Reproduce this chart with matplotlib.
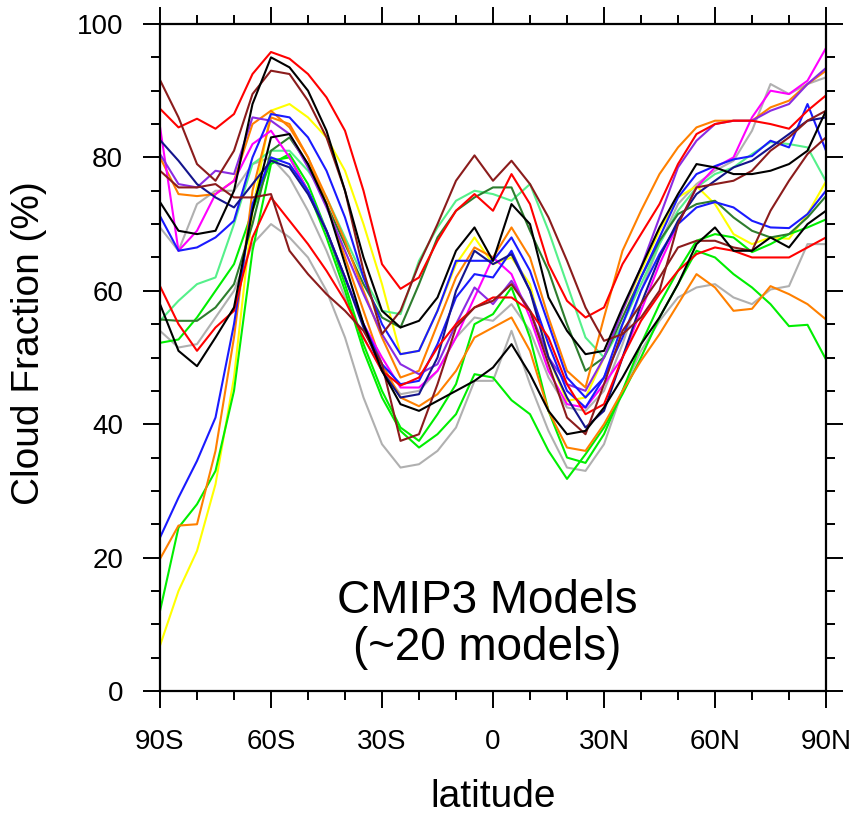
import numpy as np
import matplotlib
matplotlib.use("Agg")
import matplotlib.pyplot as plt

plt.rcParams['font.family'] = ['Liberation Sans', 'DejaVu Sans']

# latitude grid, every 5 degrees from 90S to 90N
lat = np.arange(-90, 91, 5)

# zonal mean cloud fraction (%), one list per model
red1 = [87.3, 84.5, 85.8, 84.3, 86.5, 92.5, 95.8, 94.8, 92.5, 89, 84, 75, 64, 60.3, 62, 67.5, 72, 74.5, 72,
        77.5, 73, 64, 58.5, 56, 57.5, 64, 68.5, 73, 79, 83.5, 85, 85.5, 85.5, 85, 84.3, 87, 89.3]
red2 = [60.7, 55, 51, 54.5, 57, 68, 74, 70.5, 67, 63, 58.5, 53, 48, 45.8, 47, 51.5, 55, 57.5, 59,
        59, 57, 53, 46, 41.5, 43, 50, 55.5, 59.5, 63, 65.5, 66.5, 66, 65, 65, 65, 66.5, 68]
brown1 = [91.6, 86, 79, 76.5, 81, 89.5, 93, 92.5, 88.5, 83, 75, 63, 53.5, 57, 64, 70, 76.5, 80.3, 76.5,
          79.5, 76, 71, 64.5, 57.5, 52.5, 53.5, 56, 60, 70, 75.5, 76, 76.5, 78, 81, 83, 85.5, 87]
brown2 = [78, 75.5, 75.5, 76, 74, 74, 74.5, 66, 62.5, 59.5, 57, 54, 49, 37.5, 38.5, 46, 54.5, 57.5, 58.5,
          61, 57, 49, 41, 38.5, 46, 54, 58, 62, 66.5, 67.5, 67.5, 66.5, 66, 72, 76.5, 80.5, 83]
black1 = [73.3, 69, 68.5, 69, 75, 88, 95, 93.5, 90, 84, 75, 65, 57, 54.5, 55.5, 59, 66, 69.5, 64.5,
          73, 70, 59, 54, 50.5, 51, 57.5, 63.5, 69.5, 74.5, 79, 78.5, 77.5, 77.5, 78, 79, 81, 87]
black2 = [58, 51, 48.7, 53, 57.5, 72, 83, 83.5, 79, 73, 64, 55, 48, 43, 42, 43.5, 45, 46.5, 48.5,
          52, 47.5, 42, 38.5, 39, 42.5, 47, 52, 56, 61, 67, 69.5, 66, 66, 68, 66.5, 70, 72]
magenta = [84.6, 66, 69, 74.5, 76.5, 82, 84, 80, 75, 69, 62, 55, 50, 45.5, 45.5, 48, 53, 59, 65,
           62.5, 56, 48, 43, 42.5, 46, 50, 57, 64, 70, 75.5, 78.5, 80, 86, 90, 89.5, 91.5, 96.4]
purple = [80.5, 76, 75.5, 78, 77.5, 86, 85.5, 83.5, 78.5, 72.5, 66, 59.5, 53.5, 49, 47.5, 49, 55, 60.5, 58,
          61.5, 57, 50, 46, 45, 50, 57, 63.5, 71, 78.5, 82.5, 85, 85.5, 85.5, 87, 88, 91, 93.4]
orange1 = [80, 74.5, 74.2, 74.5, 76.5, 85, 87, 84.5, 80, 74, 67.5, 60, 53, 47, 48, 55, 62, 66.5, 65,
           69.5, 65, 56, 48, 45.5, 56, 66, 72, 77.5, 81.5, 84.5, 85.5, 85.5, 85.5, 87.5, 88.5, 91, 93]
orange2 = [19.8, 24.8, 25, 36, 53, 75, 86, 85, 80, 73, 65, 57, 49, 44, 42.7, 44.5, 48, 53, 54.5,
           56, 51, 42, 36.5, 36, 40, 45, 49.5, 53.5, 58, 62.5, 60.5, 57, 57.3, 60.7, 59.5, 58, 55.7]
yellow = [6.8, 15, 21, 31, 47, 72, 87, 88, 86, 83, 78, 70, 61, 50.5, 51, 57, 64, 68, 64,
          65, 61, 50, 43.5, 44, 50, 57, 63, 69, 74, 75.7, 73, 68.5, 67, 68, 67.8, 71.5, 76.4]
lightgreen = [55.5, 58.5, 61, 62, 70, 79, 81, 81, 78, 74, 68, 62, 57, 56.5, 64.5, 69.5, 73.5, 75, 74.5,
              73.5, 76, 69, 61, 53, 50, 55, 61, 67, 72, 75.5, 77.5, 78.5, 80.5, 82.3, 82, 81.5, 76.4]
darkgreen = [55.7, 55.5, 55.5, 57.5, 61, 70, 81, 83, 79, 73, 67, 61, 56, 54.5, 61, 68, 72, 74, 75.5,
             75.5, 69, 63, 55, 48, 50, 56, 62, 67.5, 71.5, 73, 73.5, 71, 69, 68, 68.5, 71, 74.2]
lime1 = [52.2, 52.7, 56, 60, 64, 72, 79.5, 80, 75, 68, 60, 51, 44, 39, 36.5, 38.5, 41.5, 47.5, 47,
         43.6, 41.5, 36, 31.8, 35.5, 39.5, 44.5, 50, 56, 61, 66, 65, 62.5, 60.5, 58, 54.7, 54.9, 49.7]
lime2 = [12, 24.5, 28, 33, 45, 66, 79, 80.5, 76, 69, 61, 52, 45, 39.5, 37.5, 41.5, 46, 55, 56.5,
         60.5, 53, 42, 35, 34.2, 38.5, 45, 52, 58, 63, 67.5, 68.5, 68, 65.8, 67, 68.5, 69.5, 70.7]
blue1 = [71.2, 66, 66.5, 68, 70.5, 80, 86.5, 86, 83, 78, 71, 62, 55, 50.5, 51, 57, 64.5, 64.5, 64.5,
         68, 63, 55, 47, 44, 47, 55, 62, 68, 74, 77.5, 78.7, 79.7, 80.2, 82.5, 81.5, 88, 81]
blue2 = [23, 29, 34.5, 41, 55, 73, 80, 79, 75, 69, 62, 55, 49, 46, 46.5, 52, 59, 62.5, 62,
         66, 60, 52, 45, 42.5, 47, 53, 60, 65.5, 70, 72.5, 73.3, 72.5, 70.5, 69.5, 69.4, 71.5, 75]
navy = [82.6, 79.5, 76, 74, 72.5, 76, 79.5, 78.5, 74.5, 69, 62, 54.5, 48, 44, 44.5, 50, 60, 66, 64,
        65.5, 60, 50, 44, 39.5, 42, 50, 58, 65, 70.5, 74.5, 76.5, 78.5, 79.5, 81.5, 83.5, 85.5, 86]
gray1 = [69.5, 66, 73, 75, 75, 79, 80, 77, 72, 66, 59, 53, 48, 44.5, 45, 48, 53, 56, 55.5,
         58, 54, 47, 42.5, 42, 45, 52, 60, 67, 73, 76, 78, 79.5, 84, 91, 89.5, 91, 92]
gray2 = [54, 51.5, 52, 56, 60, 67, 70, 68, 65, 60, 53, 44, 37, 33.5, 34, 36, 39.5, 46.5, 46.5,
         54, 46, 39, 33.5, 33, 37, 45, 51, 55.5, 59, 60.5, 61, 59, 58, 60.2, 60.7, 67, 67]

models = [
    (gray1, '#b0b0b0'), (gray2, '#b0b0b0'),
    (yellow, '#ffff00'),
    (lime1, '#00ee00'), (lime2, '#00ee00'),
    (lightgreen, '#55f08a'), (darkgreen, '#2e7d2e'),
    (orange1, '#ff8000'), (orange2, '#ff8000'),
    (magenta, '#ff00ff'), (purple, '#8a2be2'),
    (blue1, '#1a1aff'), (blue2, '#1a1aff'), (navy, '#14148c'),
    (red1, '#ff0000'), (red2, '#ff0000'),
    (brown1, '#8b1c1c'), (brown2, '#8b1c1c'),
    (black1, '#000000'), (black2, '#000000'),
]

xticks = [-90, -60, -30, 0, 30, 60, 90]
xlabels = ['90S', '60S', '30S', '0', '30N', '60N', '90N']

fig = plt.figure(figsize=(8.57, 8.16), dpi=100)
ax = fig.add_axes([160 / 857, 125 / 816, 666 / 857, 667 / 816])

for vals, col in models:
    ax.plot(lat, vals, color=col, lw=1.5)

ax.set_xlim(-90, 90)
ax.set_ylim(0, 100)
ax.set_xticks(xticks)
ax.set_xticklabels(xlabels)
ax.set_xticks(np.arange(-90, 91, 10), minor=True)
ax.set_yticks(np.arange(0, 101, 20))
ax.set_yticks(np.arange(0, 101, 5), minor=True)

for s in ax.spines.values():
    s.set_linewidth(1.6)
ax.tick_params(which='both', direction='out', top=True, right=True, width=1.4)
ax.tick_params(which='major', length=12.5, labelsize=20)
ax.tick_params(which='minor', length=6.5)
ax.tick_params(axis='y', which='major', pad=14)
ax.tick_params(axis='x', which='major', pad=15)

fig.text(29 / 857, 1 - 343 / 816, 'Cloud Fraction (%)', rotation=90,
         ha='center', va='center', fontsize=28)
fig.text(493 / 857, 1 - 797 / 816, 'latitude', ha='center', va='center', fontsize=28)

ax.text(0.491, 0.117, 'CMIP3 Models', transform=ax.transAxes,
        ha='center', va='baseline', fontsize=33)
ax.text(0.491, 0.0465, '(~20 models)', transform=ax.transAxes,
        ha='center', va='baseline', fontsize=33)

fig.savefig('out.png', dpi=100)
